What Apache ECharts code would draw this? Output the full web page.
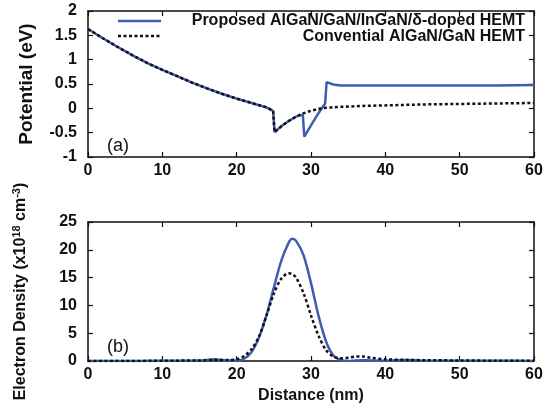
<!DOCTYPE html>
<html>
<head>
<meta charset="utf-8">
<script src="https://cdn.jsdelivr.net/npm/echarts@6/dist/echarts.min.js"></script>
<style>
  html, body { margin: 0; padding: 0; background: #fff; }
  #chart { width: 549px; height: 412px; }
</style>
</head>
<body>
<div id="chart"></div>
<script>
// Panel (a): conduction-band potential (eV) vs distance (nm)
const potConvX = [0, 2, 4, 6, 8, 10, 12, 14, 16, 18, 20, 22, 24, 24.9, 25.1, 26, 27, 28, 29, 30, 31, 32, 34, 37, 40, 45, 50, 55, 60];
const potConvY = [1.63, 1.44, 1.26, 1.09, 0.93, 0.79, 0.66, 0.53, 0.41, 0.30, 0.20, 0.11, 0.02, -0.05, -0.49, -0.37, -0.26, -0.17, -0.10, -0.05, -0.01, 0.01, 0.03, 0.05, 0.06, 0.08, 0.09, 0.10, 0.11];
const potPropX = [0, 2, 4, 6, 8, 10, 12, 14, 16, 18, 20, 22, 24, 24.9, 25.1, 26, 27, 28, 28.9, 29.1, 30, 31, 31.9, 32.1, 33, 34, 37, 40, 45, 50, 55, 60];
const potPropY = [1.63, 1.44, 1.26, 1.09, 0.93, 0.79, 0.66, 0.53, 0.41, 0.30, 0.20, 0.11, 0.02, -0.05, -0.49, -0.37, -0.26, -0.17, -0.13, -0.58, -0.35, -0.10, 0.10, 0.54, 0.49, 0.47, 0.47, 0.47, 0.47, 0.47, 0.47, 0.48];

// Panel (b): electron density (x10^18 cm^-3) vs distance (nm)
const denX = [0, 5, 10, 15, 17, 19, 20, 21, 22, 23, 24, 25, 26, 27, 27.5, 28, 29, 30, 31, 32, 33, 34, 35, 36, 37, 38, 40, 43, 45, 50, 55, 60];
const denProp = [0, 0, 0.05, 0.1, 0.3, 0.1, 0.1, 0.4, 1.6, 4.2, 8.2, 13.2, 18, 21.3, 22, 21.6, 19, 14, 8.2, 3.6, 1.0, 0.2, 0, 0.1, 0.15, 0.1, 0.05, 0.2, 0.05, 0.05, 0.05, 0];
const denConv = [0, 0, 0.05, 0.1, 0.2, 0.2, 0.3, 0.9, 2.1, 4.4, 8.1, 12.1, 14.8, 15.8, 15.6, 15, 12.2, 8.2, 4.6, 2.0, 0.8, 0.5, 0.6, 0.8, 0.8, 0.6, 0.3, 0.2, 0.15, 0.1, 0.05, 0.05];

const legendNames = ['Proposed AlGaN/GaN/InGaN/\u03b4-doped HEMT', 'Convential AlGaN/GaN HEMT'];

const BLUE = '#3f5db0';
const INK = '#111';
const FONT = 'Liberation Sans, Arial, sans-serif';
const DOTS = [3, 2.5];

const pairs = (xs, ys) => xs.map((x, i) => [x, ys[i]]);

const frameLine = { show: true, onZero: false, lineStyle: { color: INK, width: 1.5 } };
const tick = { show: true, inside: true, length: 5, lineStyle: { color: INK, width: 1.2 } };
const tickLabel = { color: INK, fontFamily: FONT, fontWeight: 'bold', fontSize: 16 };

function xAxes(gridIndex, withName) {
  return [
    {
      type: 'value', gridIndex, position: 'bottom', min: 0, max: 60, interval: 10,
      axisLine: frameLine, axisTick: tick, splitLine: { show: false },
      axisLabel: Object.assign({ margin: 6 }, tickLabel),
      name: withName ? 'Distance (nm)' : '', nameLocation: 'middle', nameGap: 27,
      nameTextStyle: { color: INK, fontFamily: FONT, fontWeight: 'bold', fontSize: 16 }
    },
    {
      type: 'value', gridIndex, position: 'top', min: 0, max: 60, interval: 10,
      axisLine: frameLine, axisTick: tick, splitLine: { show: false }, axisLabel: { show: false }
    }
  ];
}

function yAxes(gridIndex, min, max, interval, name, nameGap, nameStyle) {
  return [
    {
      type: 'value', gridIndex, position: 'left', min, max, interval,
      axisLine: frameLine, axisTick: tick, splitLine: { show: false },
      axisLabel: Object.assign({ margin: 11 }, tickLabel),
      name, nameLocation: 'middle', nameGap,
      nameTextStyle: Object.assign({ color: INK, fontFamily: FONT, fontWeight: 'bold' }, nameStyle)
    },
    {
      type: 'value', gridIndex, position: 'right', min, max, interval,
      axisLine: frameLine, axisTick: tick, splitLine: { show: false }, axisLabel: { show: false }
    }
  ];
}

const chart = echarts.init(document.getElementById('chart'), null, { renderer: 'canvas' });

chart.setOption({
  animation: false,
  backgroundColor: '#fff',
  grid: [
    { left: 88, right: 15, top: 11, height: 146 },
    { left: 88, right: 15, top: 222, height: 139 }
  ],
  xAxis: [...xAxes(0, false), ...xAxes(1, true)],
  yAxis: [
    ...yAxes(0, -1, 2, 0.5, 'Potential (eV)', 52, { fontSize: 19 }),
    ...yAxes(1, 0, 25, 5, '{n|Electron Density (x10}{sup|18}{n| cm}{sup|-3}{n|)}', 57, {
      fontSize: 16,
      rich: {
        n: { fontFamily: FONT, fontWeight: 'bold', fontSize: 16, color: INK, lineHeight: 20 },
        sup: { fontFamily: FONT, fontWeight: 'bold', fontSize: 11, color: INK, verticalAlign: 'top', lineHeight: 11 }
      }
    })
  ],
  graphic: [
    // legend samples and labels
    { type: 'line', shape: { x1: 118, y1: 21, x2: 161, y2: 21 }, style: { stroke: BLUE, lineWidth: 2.5 } },
    { type: 'line', shape: { x1: 118, y1: 36, x2: 161, y2: 36 }, style: { stroke: INK, lineWidth: 2.5, lineDash: DOTS } },
    { type: 'text', x: 525, y: 21, style: { text: legendNames[0], align: 'right', verticalAlign: 'middle', fontFamily: FONT, fontWeight: 'bold', fontSize: 16, fill: INK } },
    { type: 'text', x: 525, y: 37, style: { text: legendNames[1], align: 'right', verticalAlign: 'middle', fontFamily: FONT, fontWeight: 'bold', fontSize: 16, fill: INK } },
    // panel tags
    { type: 'text', x: 107, y: 146, style: { text: '(a)', verticalAlign: 'middle', fontFamily: FONT, fontSize: 18, fill: INK } },
    { type: 'text', x: 107, y: 347, style: { text: '(b)', verticalAlign: 'middle', fontFamily: FONT, fontSize: 18, fill: INK } }
  ],
  series: [
    {
      name: legendNames[0], type: 'line', xAxisIndex: 0, yAxisIndex: 0,
      data: pairs(potPropX, potPropY), showSymbol: false, symbol: 'none',
      lineStyle: { color: BLUE, width: 2.5 }
    },
    {
      name: legendNames[1], type: 'line', xAxisIndex: 0, yAxisIndex: 0,
      data: pairs(potConvX, potConvY), showSymbol: false, symbol: 'none',
      lineStyle: { color: INK, width: 2.5, type: DOTS }
    },
    {
      name: 'prop-density', type: 'line', xAxisIndex: 2, yAxisIndex: 2, smooth: 0.3,
      data: pairs(denX, denProp), showSymbol: false, symbol: 'none',
      lineStyle: { color: BLUE, width: 2.5 }
    },
    {
      name: 'conv-density', type: 'line', xAxisIndex: 2, yAxisIndex: 2, smooth: 0.3,
      data: pairs(denX, denConv), showSymbol: false, symbol: 'none',
      lineStyle: { color: INK, width: 2.5, type: DOTS }
    }
  ]
});
</script>
</body>
</html>
